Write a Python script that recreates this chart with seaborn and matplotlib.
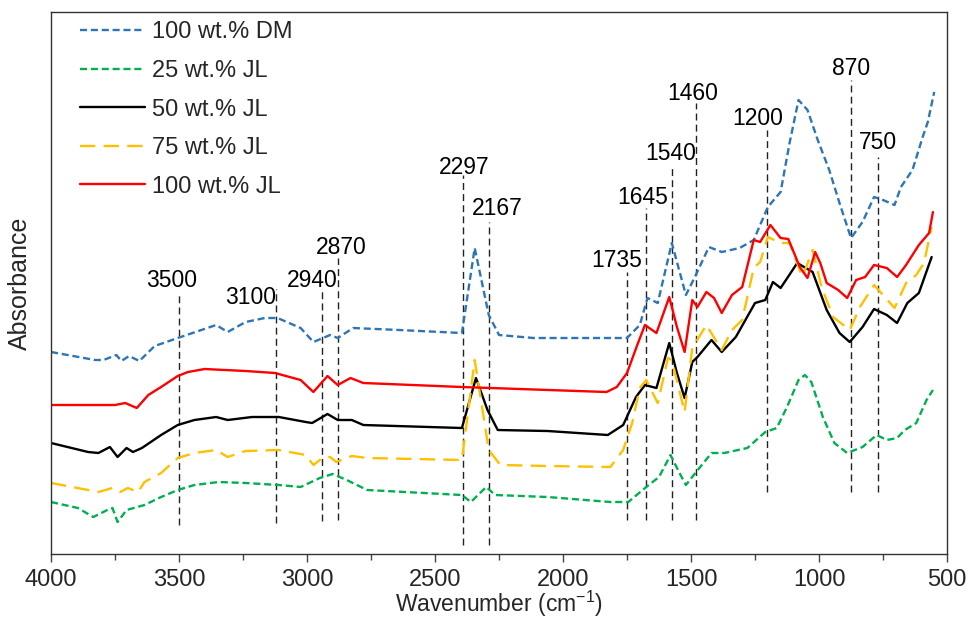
import numpy as np
import pandas as pd
import matplotlib
matplotlib.use("Agg")
import matplotlib.pyplot as plt
from matplotlib.ticker import MultipleLocator
import seaborn as sns

# ------------------------------------------------------------------
# FTIR spectra (wavenumber, offset absorbance a.u.)
# ------------------------------------------------------------------
wn_dm = [4000, 3828, 3795, 3745, 3725, 3695, 3655, 3595, 3505, 3355, 3310, 3240, 3165, 3115,
         3025, 2975, 2910, 2880, 2820, 2640, 2395, 2345, 2290, 2250, 2115, 1750, 1700, 1670,
         1630, 1575, 1520, 1485, 1430, 1380, 1310, 1255, 1200, 1150, 1115, 1080, 1045, 1005,
         960, 920, 875, 830, 785, 750, 705, 680, 635, 595, 575, 550]
ab_dm = [2.01, 1.93, 1.93, 1.98, 1.92, 1.97, 1.92, 2.07, 2.15, 2.28, 2.21, 2.31, 2.35, 2.35,
         2.25, 2.11, 2.18, 2.15, 2.25, 2.23, 2.20, 3.05, 2.38, 2.18, 2.15, 2.15, 2.28, 2.55,
         2.50, 3.10, 2.58, 2.76, 3.06, 3.01, 3.05, 3.13, 3.46, 3.61, 4.10, 4.53, 4.43, 4.13,
         3.83, 3.50, 3.15, 3.31, 3.56, 3.53, 3.48, 3.66, 3.83, 4.16, 4.31, 4.61]

wn_jl25 = [4000, 3895, 3835, 3780, 3760, 3740, 3705, 3635, 3570, 3505, 3440, 3345, 3240, 3110,
           3025, 2950, 2900, 2845, 2765, 2395, 2360, 2300, 2265, 2060, 1815, 1745, 1675, 1625,
           1580, 1545, 1520, 1480, 1420, 1370, 1280, 1210, 1165, 1125, 1080, 1055, 1030, 985,
           940, 890, 830, 775, 735, 695, 665, 620, 580, 555]
ab_jl25 = [0.51, 0.45, 0.36, 0.43, 0.45, 0.31, 0.43, 0.48, 0.56, 0.63, 0.68, 0.71, 0.70, 0.68,
           0.66, 0.75, 0.79, 0.73, 0.63, 0.58, 0.51, 0.66, 0.58, 0.56, 0.51, 0.51, 0.66, 0.76,
           0.98, 0.80, 0.68, 0.81, 1.00, 1.00, 1.05, 1.21, 1.25, 1.46, 1.73, 1.78, 1.71, 1.36,
           1.10, 1.00, 1.06, 1.18, 1.13, 1.15, 1.23, 1.30, 1.53, 1.63]

wn_jl50 = [4000, 3855, 3815, 3770, 3740, 3705, 3680, 3645, 3570, 3505, 3440, 3355, 3310, 3215,
           3110, 3005, 2980, 2920, 2880, 2825, 2780, 2395, 2340, 2295, 2255, 2060, 1825, 1765,
           1715, 1680, 1635, 1585, 1555, 1525, 1495, 1475, 1420, 1380, 1325, 1250, 1210, 1180,
           1150, 1085, 1025, 970, 920, 880, 830, 785, 735, 695, 655, 610, 560]
ab_jl50 = [1.10, 1.01, 1.00, 1.06, 0.96, 1.05, 1.01, 1.05, 1.18, 1.28, 1.33, 1.36, 1.33, 1.36,
           1.36, 1.31, 1.30, 1.39, 1.33, 1.33, 1.28, 1.25, 1.75, 1.43, 1.23, 1.22, 1.18, 1.28,
           1.56, 1.68, 1.65, 2.10, 1.80, 1.55, 1.91, 1.96, 2.13, 2.01, 2.16, 2.50, 2.53, 2.71,
           2.65, 2.90, 2.81, 2.43, 2.20, 2.11, 2.26, 2.44, 2.38, 2.30, 2.50, 2.60, 2.96]

wn_jl75 = [4000, 3855, 3815, 3760, 3730, 3700, 3660, 3635, 3570, 3505, 3440, 3355, 3310, 3240,
           3110, 3005, 2975, 2935, 2910, 2885, 2825, 2765, 2395, 2345, 2290, 2245, 2060, 1815,
           1765, 1730, 1700, 1675, 1630, 1590, 1575, 1525, 1495, 1440, 1380, 1340, 1300, 1255,
           1230, 1200, 1150, 1115, 1065, 1025, 990, 945, 880, 840, 785, 705, 660, 620, 590, 560]
ab_jl75 = [0.70, 0.63, 0.61, 0.65, 0.61, 0.65, 0.61, 0.71, 0.80, 0.95, 1.00, 1.03, 0.96, 1.02,
           1.03, 0.98, 0.88, 0.96, 0.96, 0.91, 0.97, 0.95, 0.93, 1.93, 1.03, 0.88, 0.87, 0.86,
           1.03, 1.30, 1.65, 1.73, 1.50, 1.95, 1.93, 1.41, 2.05, 2.28, 2.03, 2.23, 2.33, 2.85,
           2.91, 3.16, 3.10, 3.10, 2.76, 3.03, 2.66, 2.36, 2.23, 2.46, 2.68, 2.45, 2.70, 2.78,
           2.90, 3.26]

wn_jl100 = [4000, 3750, 3710, 3665, 3620, 3570, 3505, 3465, 3400, 3240, 3125, 3025, 2975, 2920,
            2880, 2830, 2780, 2395, 1830, 1790, 1750, 1710, 1680, 1635, 1585, 1555, 1525, 1495,
            1475, 1440, 1410, 1380, 1340, 1300, 1255, 1230, 1190, 1150, 1120, 1075, 1045, 1015,
            995, 970, 925, 890, 855, 820, 785, 735, 695, 660, 610, 570, 555]
ab_jl100 = [1.48, 1.48, 1.50, 1.45, 1.58, 1.66, 1.77, 1.81, 1.84, 1.82, 1.80, 1.73, 1.61, 1.77,
            1.68, 1.75, 1.70, 1.66, 1.61, 1.66, 1.80, 2.08, 2.28, 2.20, 2.56, 2.26, 2.01, 2.53,
            2.46, 2.61, 2.55, 2.40, 2.58, 2.66, 3.13, 3.11, 3.28, 3.15, 3.14, 2.86, 2.75, 3.01,
            2.90, 2.70, 2.63, 2.55, 2.73, 2.76, 2.88, 2.85, 2.76, 2.88, 3.08, 3.20, 3.41]

# band markers: label, line position, line top / bottom, label position
band_labels = ["3500", "3100", "2940", "2870", "2297", "2167", "1735",
               "1645", "1540", "1460", "1200", "870", "750"]
band_line_x = [3500, 3120, 2940, 2880, 2390, 2290, 1750, 1675, 1575, 1480, 1205, 875, 770]
band_top = [2.61, 2.64, 2.65, 2.95, 3.78, 3.31, 2.81, 3.45, 3.85, 4.50, 4.23, 4.73, 3.96]
band_bottom = [0.28, 0.30, 0.32, 0.33, 0.08, 0.08, 0.33, 0.33, 0.33, 0.33, 0.61, 0.61, 0.61]
label_x = [3530, 3220, 2980, 2865, 2385, 2255, 1790, 1690, 1580, 1495, 1240, 875, 770]
label_y = [2.73, 2.56, 2.73, 3.06, 3.86, 3.45, 2.93, 3.56, 4.00, 4.60, 4.35, 4.85, 4.11]

series = [
    ("100 wt.% DM", wn_dm, ab_dm, "#2E75B6", (0, (3.0, 1.6))),
    ("25 wt.% JL", wn_jl25, ab_jl25, "#00B050", (0, (3.0, 1.6))),
    ("50 wt.% JL", wn_jl50, ab_jl50, "black", "-"),
    ("75 wt.% JL", wn_jl75, ab_jl75, "#FFC000", (0, (6.5, 3.5))),
    ("100 wt.% JL", wn_jl100, ab_jl100, "#FF0000", "-"),
]

sns.set_theme(style="white")
plt.rcParams['font.family'] = ['Liberation Sans', 'DejaVu Sans']
plt.rcParams['mathtext.fontset'] = 'custom'
plt.rcParams['mathtext.rm'] = 'Liberation Sans'

fig = plt.figure(figsize=(9.7, 6.19), dpi=100)
ax = fig.add_axes([0.0526, 0.105, 0.9237, 0.8756])

# dashed band markers first so the spectra sit on top
for lab, lx, top, bot, tx, ty in zip(band_labels, band_line_x, band_top, band_bottom, label_x, label_y):
    ax.plot([lx, lx], [bot, top], color="#222222", lw=1.0, linestyle=(0, (5, 3)))
    ax.text(tx, ty, lab, ha="center", va="center", fontsize=16.5, color="black")

for name, wn, ab, col, ls in series:
    df = pd.DataFrame({"wn": wn, "ab": ab})
    sns.lineplot(data=df, x="wn", y="ab", ax=ax, color=col, lw=1.7,
                 linestyle=ls, label=name, estimator=None, sort=False)

ax.set_xlim(4000, 500)
ax.set_ylim(-0.01, 5.41)
ax.xaxis.set_major_locator(MultipleLocator(500))
ax.xaxis.set_minor_locator(MultipleLocator(250))
ax.tick_params(axis="x", which="major", direction="out", length=5.5, width=1,
               color="#444444", labelsize=17, pad=5, bottom=True)
ax.tick_params(axis="x", which="minor", direction="out", length=4.5, width=1,
               color="#444444", bottom=True)
ax.set_yticks([])
for sp in ax.spines.values():
    sp.set_color("#333333")
    sp.set_linewidth(1.0)

ax.set_xlabel(r"Wavenumber (cm$^{-1}$)", fontsize=16.5, labelpad=-1)
ax.set_ylabel("Absorbance", fontsize=18, labelpad=14)

leg = ax.legend(loc="upper left", frameon=False, fontsize=17, handlelength=2.75,
                handletextpad=0.3, labelspacing=0.7, borderaxespad=0.0,
                bbox_to_anchor=(0.022, 1.0))

fig.savefig("out.png", dpi=100)
